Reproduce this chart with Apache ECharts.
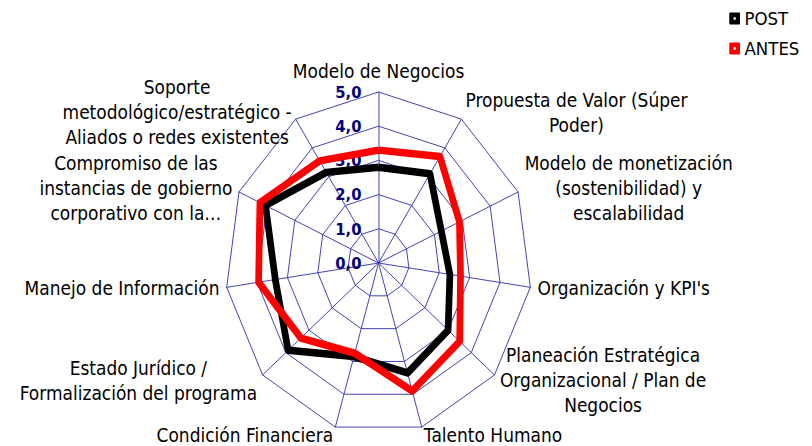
<!DOCTYPE html>
<html>
<head>
<meta charset="utf-8">
<script src="https://cdn.jsdelivr.net/npm/echarts@6/dist/echarts.min.js"></script>
<style>
    html, body { margin: 0; padding: 0; background: #fff; overflow: hidden; }
    /* el radar original sale estirado (más alto que ancho), por eso se comprime en x */
    #chart { width: 905px; height: 446px; transform: scaleX(0.897); transform-origin: 0 0; }
</style>
</head>
<body>
<div id="chart"></div>
<script>
    // criterios en sentido horario empezando arriba
    var criterios = [
        'Modelo de Negocios',
        'Propuesta de Valor (Súper\nPoder)',
        'Modelo de monetización\n(sostenibilidad) y\nescalabilidad',
        "Organización y KPI's",
        'Planeación Estratégica\nOrganizacional / Plan de\nNegocios',
        'Talento Humano',
        'Condición Financiera',
        'Estado Jurídico /\nFormalización del programa',
        'Manejo de Información',
        'Compromiso de las\ninstancias de gobierno\ncorporativo con la…',
        'Soporte\nmetodológico/estratégico -\nAliados o redes existentes'
    ];
    var post  = [2.8, 3.1, 2.25, 2.35, 3.0, 3.35, 2.85, 3.9, 3.4, 4.05, 3.15];
    var antes = [3.3, 3.7, 2.9, 2.7, 3.5, 3.9, 2.75, 3.35, 3.95, 4.25, 3.55];
    var escalaMin = 0, escalaMax = 5, escalaPasos = 5;

    var fuente = 'DejaVu Sans';
    var azul = '#3838b4';
    var iconoLeyenda = 'path://M1,0h8a1,1 0 0 1 1,1v8a1,1 0 0 1 -1,1h-8a1,1 0 0 1 -1,-1v-8a1,1 0 0 1 1,-1z M4,4v2h2v-2z';

    // echarts dibuja los ejes en sentido antihorario: se reordena
    var orden = [0];
    for (var i = criterios.length - 1; i > 0; i--) orden.push(i);

    var indicadores = orden.map(function (i, k) {
        var ind = { name: criterios[i], min: escalaMin, max: escalaMax };
        if (k === 0) {
            ind.axisLabel = {
                show: true,
                margin: 19,
                color: '#000080',
                fontWeight: 'bold',
                fontSize: 16.5,
                fontFamily: fuente,
                formatter: function (v) { return v.toFixed(1).replace('.', ','); }
            };
        }
        return ind;
    });

    var chart = echarts.init(document.getElementById('chart'), null, { renderer: 'svg' });
    chart.setOption({
        backgroundColor: '#fff',
        animation: false,
        legend: {
            orient: 'vertical',
            left: 808,
            top: 4,
            itemWidth: 12,
            itemHeight: 12,
            itemGap: 11,
            icon: iconoLeyenda,
            textStyle: { fontSize: 18.5, fontFamily: fuente, color: '#000' },
            data: ['POST', 'ANTES']
        },
        radar: {
            center: [422, 263],
            radius: 171,
            startAngle: 90,
            shape: 'polygon',
            splitNumber: escalaPasos,
            nameGap: 8,
            axisName: {
                color: '#000',
                formatter: function (name) {
                    return name.split('\n').map(function (l) { return '{c|' + l + '}'; }).join('\n');
                },
                rich: {
                    c: { align: 'center', fontSize: 19, fontFamily: fuente, color: '#000', lineHeight: 25 }
                }
            },
            axisLine: { lineStyle: { color: azul, width: 1 } },
            splitLine: { lineStyle: { color: azul, width: 1 } },
            splitArea: { show: false },
            axisLabel: { show: false },
            indicator: indicadores
        },
        series: [
            {
                name: 'POST',
                type: 'radar',
                symbol: 'none',
                itemStyle: { color: '#000' },
                lineStyle: { color: '#000', width: 7.5 },
                data: [{ name: 'POST', value: orden.map(function (i) { return post[i]; }) }]
            },
            {
                name: 'ANTES',
                type: 'radar',
                symbol: 'none',
                itemStyle: { color: '#ff0000' },
                lineStyle: { color: '#ff0000', width: 7.5 },
                data: [{ name: 'ANTES', value: orden.map(function (i) { return antes[i]; }) }]
            }
        ]
    });
</script>
</body>
</html>
